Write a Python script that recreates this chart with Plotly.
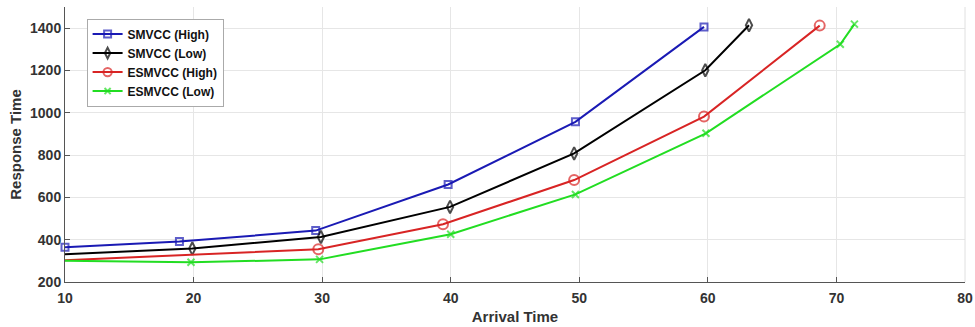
import plotly.graph_objects as go

# Data
smvcc_high_x = [10, 18.9, 29.5, 39.8, 49.7, 59.7]
smvcc_high_y = [364, 391, 443, 661, 957, 1406]

smvcc_low_x = [10, 19.9, 29.9, 39.95, 49.6, 59.8, 63.2]
smvcc_low_y = [331, 358, 413, 555, 808, 1201, 1414]

esmvcc_high_x = [10, 29.7, 39.4, 49.6, 59.7, 68.7]
esmvcc_high_y = [303, 355, 473, 682, 982, 1412]

esmvcc_low_x = [10, 19.8, 29.8, 40.0, 49.7, 59.85, 70.3, 71.4]
esmvcc_low_y = [300, 293, 307, 426, 614, 903, 1324, 1419]

names = ["SMVCC (High)", "SMVCC (Low)", "ESMVCC (High)", "ESMVCC (Low)"]
x_ticks = [10, 20, 30, 40, 50, 60, 70, 80]
y_ticks = [200, 400, 600, 800, 1000, 1200, 1400]

series = [
    (smvcc_high_x, smvcc_high_y, "#1a1ab4", "square-open", 7, True),
    (smvcc_low_x, smvcc_low_y, "#000000", "diamond-tall-open", 9, False),
    (esmvcc_high_x, esmvcc_high_y, "#d82424", "circle-open", 10, False),
    (esmvcc_low_x, esmvcc_low_y, "#22dd22", "x-thin-open", 7, False),
]

fig = go.Figure()
for (xs, ys, col, sym, sz, first_marker), name in zip(series, names):
    sizes = [sz] * len(xs)
    if not first_marker:
        sizes[0] = 0
    fig.add_trace(go.Scatter(
        x=xs, y=ys, name=name, mode="lines+markers",
        line=dict(color=col, width=2),
        marker=dict(symbol=sym, size=sizes, color=col,
                    line=dict(color=col, width=2)),
        cliponaxis=False,
    ))

FAM = "Liberation Sans, Arial"
tick_font = dict(family=FAM, size=14, color="#333333", weight="bold")
title_font = dict(family=FAM, size=15, color="#333333", weight="bold")

fig.update_layout(
    width=975, height=327,
    margin=dict(l=65, r=10, t=7, b=45),
    paper_bgcolor="white", plot_bgcolor="white",
    showlegend=True,
    legend=dict(
        x=0.024, y=0.958, xanchor="left", yanchor="top",
        bgcolor="white", bordercolor="#aaaaaa", borderwidth=1,
        font=dict(family=FAM, size=12, color="#111111", weight="bold"),
        tracegroupgap=0, itemwidth=30,
    ),
    xaxis=dict(
        range=[10, 80], tickvals=x_ticks, ticks="inside", ticklen=5,
        tickcolor="#555555", automargin=False, ticklabelstandoff=3,
        showgrid=True, gridcolor="#e6e6e6", gridwidth=1,
        showline=True, linecolor="#555555", linewidth=1, mirror=False,
        zeroline=False, tickfont=tick_font,
        title=dict(text="Arrival Time", standoff=6, font=title_font),
    ),
    yaxis=dict(
        range=[200, 1500], tickvals=y_ticks, ticks="inside", ticklen=5,
        tickcolor="#555555", automargin=False,
        showgrid=True, gridcolor="#e6e6e6", gridwidth=1,
        showline=True, linecolor="#555555", linewidth=1, mirror=False,
        zeroline=False, tickfont=tick_font,
        title=dict(text="Response Time", standoff=4, font=title_font),
    ),
)
fig.add_shape(type="line", xref="paper", yref="paper", x0=1, x1=1, y0=0, y1=1,
              line=dict(color="#e0e0e0", width=1))

fig.write_html(
    "out.html",
    config={"displayModeBar": False},
    post_script="document.body.style.margin='0';document.body.style.overflow='hidden';",
)
